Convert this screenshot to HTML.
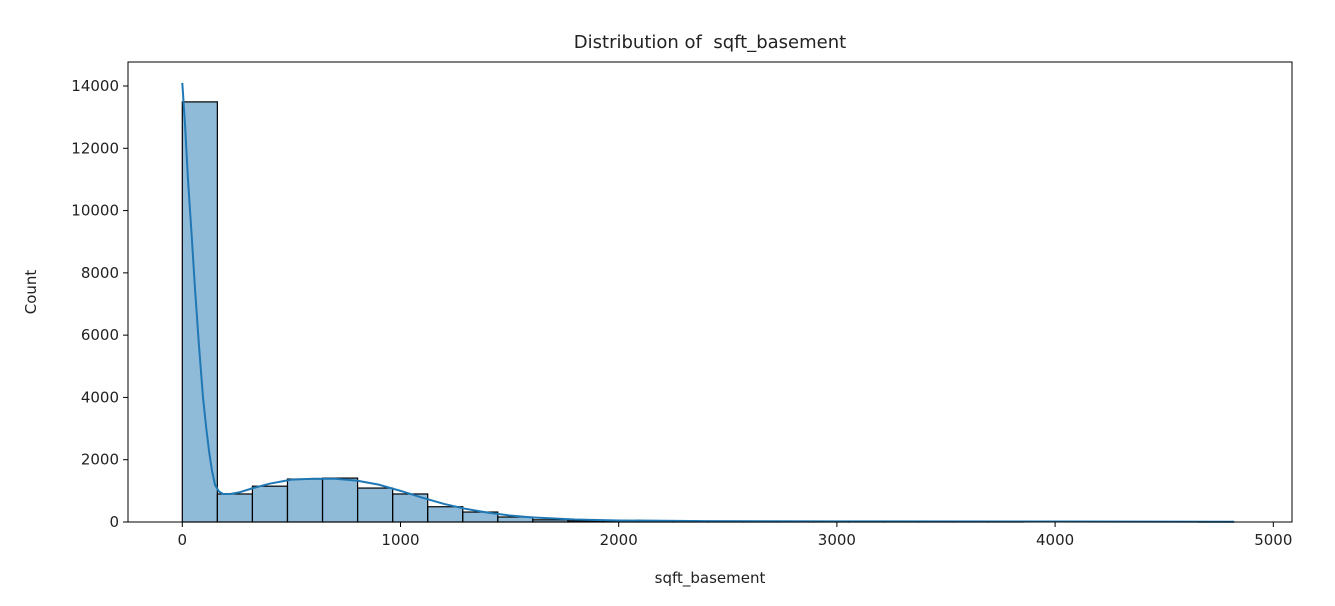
<!DOCTYPE html>
<html><head><meta charset="utf-8"><style>
body{margin:0;background:#fff;font-family:"Liberation Sans","DejaVu Sans",sans-serif;}
svg text{font-family:"DejaVu Sans","Liberation Sans",sans-serif;fill:#222;}
</style></head><body>
<svg id="c" width="1335" height="601"></svg>
<script>
const counts=[13490,900,1150,1380,1410,1090,900,490,320,160,70,40,25,15,10,8,5,4,3,2,2,1,1,1,0,0,0,0,0,1];
const binMax=4820;
const kdeX=[0,13,26,42,58,76,95,110,123,136,150,168,187,220,260,320,400,500,600,700,800,900,1000,1100,1200,1300,1400,1500,1600,1800,2000,2400,3000,4000,4820];
const kdeY=[14100,12700,11000,9300,7510,5700,3990,3000,2250,1650,1190,980,900,900,950,1080,1230,1360,1390,1390,1330,1200,1000,780,580,420,300,210,150,80,50,30,20,15,10];
const xTicks=[0,1000,2000,3000,4000,5000];
const yTicks=[0,2000,4000,6000,8000,10000,12000,14000];
const L=128,R=1292,T=62,B=522;
const sx=v=>182.3+v*0.2182, sy=v=>B-v*(436/14000);
const svg=document.getElementById('c');const NS='http://www.w3.org/2000/svg';
function mk(t,a,p){const e=document.createElementNS(NS,t);for(const k in a)e.setAttribute(k,a[k]);(p||svg).appendChild(e);return e;}
const w=binMax/counts.length;
counts.forEach((c,i)=>{const x0=sx(i*w),x1=sx((i+1)*w);
const r=mk('rect',{x:x0,y:sy(c),width:x1-x0,height:B-sy(c),fill:'#1f77b4','fill-opacity':0.5,stroke:'#000','stroke-width':1.2});

});
const kd=kdeX.map((x,i)=>(i?'L':'M')+sx(x)+','+sy(kdeY[i])).join('');
const kl=mk('path',{d:kd,fill:'none',stroke:'#1f77b4','stroke-width':2,'stroke-linejoin':'round'});


const fr=mk('rect',{x:L,y:T,width:R-L,height:B-T,fill:'none',stroke:'#000','stroke-width':1});


xTicks.forEach(v=>{mk('line',{x1:sx(v),x2:sx(v),y1:B,y2:B+5,stroke:'#000'});
const t=mk('text',{x:sx(v),y:B+23,'text-anchor':'middle','font-size':15});t.textContent=v;

});
yTicks.forEach(v=>{mk('line',{x1:L-5,x2:L,y1:sy(v),y2:sy(v),stroke:'#000'});
const t=mk('text',{x:L-9,y:sy(v)+5,'text-anchor':'end','font-size':15});t.textContent=v;

});
const tt=mk('text',{x:710,y:48,'text-anchor':'middle','font-size':18});tt.textContent='Distribution of  sqft_basement';tt.setAttribute('xml:space','preserve');tt.style.whiteSpace='pre';


const xl=mk('text',{x:710,y:583,'text-anchor':'middle','font-size':15});xl.textContent='sqft_basement';


const yl=mk('text',{x:36,y:292,'text-anchor':'middle','font-size':15,transform:'rotate(-90 36 292)'});yl.textContent='Count';


</script></body></html>
